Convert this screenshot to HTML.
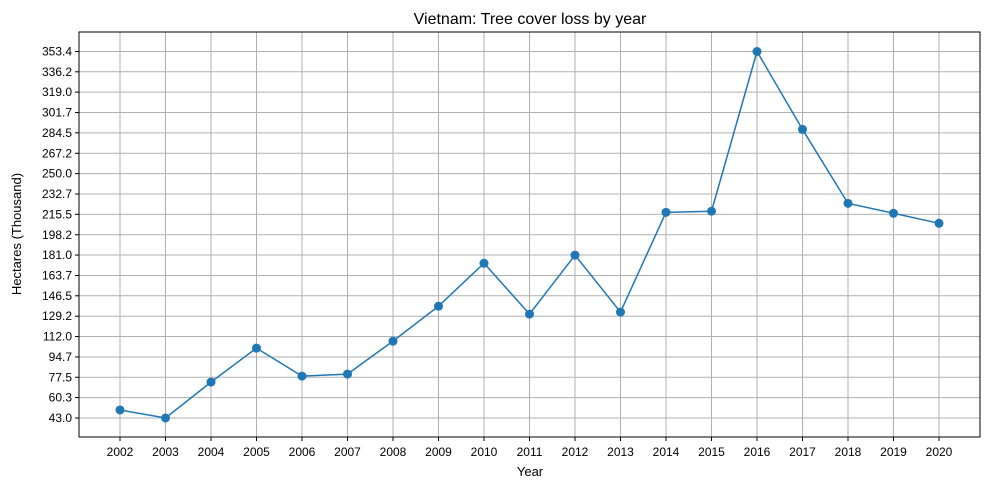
<!DOCTYPE html>
<html><head><meta charset="utf-8"><style>
body{margin:0;background:#fff;}
svg text{font-family:"Liberation Sans","DejaVu Sans",sans-serif;fill:#000;}
</style></head><body>
<svg id="chart" width="989" height="490" xmlns="http://www.w3.org/2000/svg">
<rect x="0" y="0" width="989" height="490" fill="#fff"/>
<g id="grid"></g><g id="axes"></g><g id="series"></g>
<text x="530" y="24" text-anchor="middle" font-size="16">Vietnam: Tree cover loss by year</text>
<text x="530" y="476" text-anchor="middle" font-size="13">Year</text>
<text transform="translate(21,234) rotate(-90)" text-anchor="middle" font-size="13">Hectares (Thousand)</text>
</svg>
<script>
const years=[2002,2003,2004,2005,2006,2007,2008,2009,2010,2011,2012,2013,2014,2015,2016,2017,2018,2019,2020];
const loss=[49.8,43.0,73.4,102.2,78.5,80.2,108.1,137.7,174.1,131.0,180.9,132.7,217.2,218.1,353.4,287.4,224.8,216.4,207.9];
const yTicks=[43.0,60.3,77.5,94.7,112.0,129.2,146.5,163.7,181.0,198.2,215.5,232.7,250.0,267.2,284.5,301.7,319.0,336.2,353.4];
const L=79,R=980,T=32,B=437;
const xS=v=>120+(v-2002)*(939-120)/18;
const yS=v=>418-(v-43.0)*(418-51.5)/(353.4-43.0);
const ns="http://www.w3.org/2000/svg";
function mk(p,t,a){const e=document.createElementNS(ns,t);for(const k in a)e.setAttribute(k,a[k]);p.appendChild(e);return e;}
const g=document.getElementById('grid'),ax=document.getElementById('axes'),s=document.getElementById('series');
years.forEach(y=>{const x=xS(y);
 const l=mk(g,'line',{x1:x,x2:x,y1:T,y2:B,stroke:'#b0b0b0','stroke-width':1});
 
 mk(ax,'line',{x1:x,x2:x,y1:B,y2:B+4,stroke:'#000'});
 const t=mk(ax,'text',{x:x,y:B+19,'text-anchor':'middle','font-size':12});t.textContent=y;
 });
yTicks.forEach(v=>{const y=yS(v);
 const l=mk(g,'line',{x1:L,x2:R,y1:y,y2:y,stroke:'#b0b0b0','stroke-width':1});
 
 mk(ax,'line',{x1:L-4,x2:L,y1:y,y2:y,stroke:'#000'});
 const t=mk(ax,'text',{x:L-7,y:y+4,'text-anchor':'end','font-size':12});t.textContent=v.toFixed(1);
 });
const fr=mk(ax,'rect',{x:L,y:T,width:R-L,height:B-T,fill:'none',stroke:'#000','stroke-width':1});

const pl=mk(s,'polyline',{points:years.map((y,i)=>xS(y)+','+yS(loss[i])).join(' '),fill:'none',stroke:'#1f77b4','stroke-width':1.5});

years.forEach((y,i)=>{const c=mk(s,'circle',{cx:xS(y),cy:yS(loss[i]),r:4.5,fill:'#1f77b4'});
 });
</script>
</body></html>
